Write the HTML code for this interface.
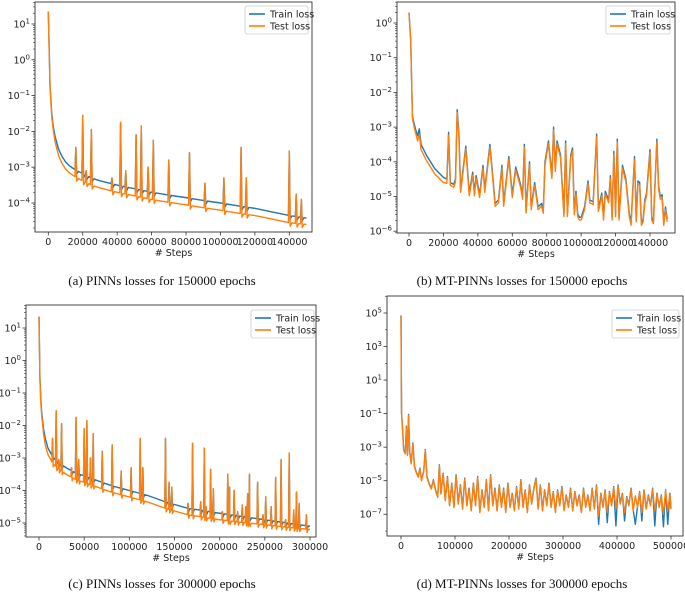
<!DOCTYPE html>
<html><head><meta charset="utf-8"><style>
body{margin:0;background:#fff;width:685px;height:592px;overflow:hidden}
svg{display:block}
.tk{font-family:"DejaVu Sans","Liberation Sans",sans-serif;font-size:9.5px;fill:#222}
.cap{font-family:"Liberation Serif",serif;font-size:13px;fill:#111}
</style></head><body>
<svg id="fig" width="685" height="592" xmlns="http://www.w3.org/2000/svg"></svg>
<script>
// ---------- DATA (x in steps, y as log10 of loss) ----------
// Panel (a) PINNs 150000
const aBaseX=[0,1000,2000,3000,4000,6000,8000,10000,12000,15000,20000,25000,30000,40000,50000,60000,70000,80000,90000,100000,110000,120000,130000,140000,150000];
const aBaseTrain=[1.35,-0.7,-1.5,-1.9,-2.15,-2.5,-2.7,-2.85,-2.95,-3.05,-3.18,-3.3,-3.38,-3.5,-3.6,-3.7,-3.78,-3.85,-3.93,-4.0,-4.08,-4.15,-4.25,-4.35,-4.42];
const aBaseTest=[1.35,-0.75,-1.6,-2.0,-2.3,-2.68,-2.9,-3.05,-3.15,-3.25,-3.38,-3.5,-3.58,-3.7,-3.8,-3.9,-3.98,-4.05,-4.13,-4.2,-4.28,-4.35,-4.45,-4.55,-4.6];
const aSpikeX=[16000,20000,22000,25000,37000,42000,45000,51000,54000,58000,61000,70000,82000,91000,102000,112000,115000,140000,144000,147000];
const aSpikePeak=[-2.45,-1.55,-3.1,-1.95,-3.3,-1.75,-3.1,-2.1,-1.85,-3.0,-2.25,-2.8,-2.6,-3.45,-3.3,-2.45,-3.3,-2.55,-3.75,-3.9];
// Panel (b) MT-PINNs 150000 (x in thousands)
const bX=[0,1,2,3,4,5,6,7,10,15,20,22,23,24,26,27,28,29,30,33,35,37,38,39,41,43,44,47,49,50,52,54,55,57,58,60,62,64,65,66,67,68,70,71,73,75,77,78,79,81,83,84,85,86,88,90,91,92,94,95,96,97,98,99,100,102,104,105,107,109,110,112,113,114,116,117,118,119,120,121,122,124,126,128,129,131,132,133,134,135,136,137,138,140,141,142,144,145,146,147,148,149,150];
const bTrain=[0.3,-0.5,-2.7,-2.9,-3.1,-3.25,-3.05,-3.5,-3.8,-4.2,-4.45,-4.5,-3.15,-4.6,-4.65,-4.5,-2.5,-3.2,-4.8,-3.55,-4.9,-4.3,-4.9,-4.4,-4.95,-4.1,-4.8,-3.5,-4.6,-5.2,-5.1,-4.1,-5.2,-4.3,-3.85,-4.95,-4.15,-4.5,-4.7,-5.0,-3.5,-5.4,-4.0,-5.3,-4.6,-5.3,-5.2,-5.4,-4.0,-3.4,-4.4,-3.0,-4.2,-3.4,-3.8,-5.5,-3.4,-5.5,-3.8,-3.6,-5.45,-4.85,-5.5,-5.6,-5.6,-5.3,-4.55,-5.1,-5.15,-3.2,-5.35,-4.9,-5.6,-4.85,-5.1,-4.4,-5.6,-3.7,-5.5,-3.35,-5.6,-4.1,-4.5,-5.5,-5.75,-3.85,-5.65,-4.55,-4.6,-5.75,-5.65,-5.1,-4.9,-3.65,-5.6,-5.7,-3.35,-4.7,-5.0,-4.95,-5.75,-5.3,-5.65];
const bTestOffset=[0,0,-0.05,-0.1,-0.1,-0.15,-0.15,-0.15,-0.15,-0.15,-0.15,-0.12];
// Panel (c) PINNs 300000
const cBaseX=[0,1000,2000,3000,5000,7000,10000,15000,20000,25000,30000,40000,50000,60000,80000,100000,120000,140000,165000,185000,200000,225000,250000,275000,300000];
const cBaseTrain=[1.35,-0.5,-1.2,-1.6,-2.1,-2.4,-2.7,-2.95,-3.1,-3.2,-3.3,-3.45,-3.55,-3.65,-3.85,-4.0,-4.15,-4.35,-4.55,-4.63,-4.7,-4.8,-4.9,-5.0,-5.1];
const cBaseTest=[1.35,-0.55,-1.3,-1.7,-2.25,-2.6,-2.9,-3.15,-3.3,-3.4,-3.5,-3.65,-3.75,-3.85,-4.05,-4.2,-4.35,-4.55,-4.75,-4.83,-4.9,-4.98,-5.05,-5.13,-5.2];
const cSpikeX=[15000,19000,22000,25000,36000,41000,44000,50000,53000,57000,60000,70000,81000,91000,102000,112000,115000,140000,144000,147000,165000,170000,179000,183000,185000,190000,193000,203000,209000,211000,216000,220000,225000,229000,231000,233000,242000,248000,251000,257000,262000,268000,273000,277000,282000,285000,288000,296000];
const cSpikePeak=[-2.4,-1.55,-3.05,-1.95,-3.3,-1.75,-3.05,-2.1,-1.85,-3.0,-2.25,-2.8,-2.6,-3.4,-3.3,-2.4,-3.3,-2.4,-3.75,-3.9,-4.4,-2.55,-4.35,-2.7,-4.5,-3.35,-3.95,-4.65,-3.5,-3.9,-4.0,-4.65,-4.45,-4.5,-4.1,-3.5,-3.75,-4.75,-4.2,-4.5,-3.6,-3.05,-4.9,-2.85,-4.6,-4.05,-4.4,-4.75];
// Panel (d) MT-PINNs 500000 (x in thousands)
const dX=[0,1,3,5,8,10,12,14,16,19,22,25,28,32,35,38,42,45,48,52,56,60,64,68,71,74,78,82,86,90,94,98,102,106,110,114,118,122,126,130,134,138,142,146,150,154,158,162,166,170,174,178,182,186,190,194,198,202,206,210,214,218,222,226,230,234,238,242,246,250,254,258,262,266,270,274,278,282,286,290,294,298,302,306,310,314,318,322,326,330,334,338,342,346,350,354,358,362,366,370,374,378,382,386,390,394,398,402,406,410,414,418,422,426,430,434,438,442,446,450,454,458,462,466,470,474,478,482,486,490,494,498,500];
const dTest=[4.8,-1,-2,-3.2,-3.4,-1.8,-3.5,-1.1,-3.3,-4.0,-2.8,-4.2,-4.5,-4.8,-4.3,-5.0,-4.5,-3.2,-4.8,-5.2,-5.5,-5.0,-5.6,-6.0,-4.1,-5.8,-4.6,-6.2,-4.8,-6.5,-5.2,-6.6,-4.7,-6.4,-5.3,-6.7,-4.9,-6.5,-5.5,-6.8,-5.2,-6.5,-4.8,-6.9,-5.6,-6.6,-5.0,-6.8,-4.7,-6.5,-5.5,-6.8,-5.3,-6.6,-5.5,-6.9,-5.2,-6.6,-5.8,-6.8,-5.4,-6.7,-5.0,-6.6,-5.6,-6.9,-5.3,-6.4,-5.5,-4.9,-6.7,-5.3,-6.8,-5.6,-6.5,-5.2,-6.6,-5.7,-6.9,-5.6,-6.5,-5.4,-6.8,-5.9,-6.6,-5.5,-6.8,-5.7,-6.5,-5.9,-6.9,-5.5,-6.6,-5.9,-6.8,-5.5,-6.7,-5.3,-7.1,-5.8,-6.6,-5.6,-6.9,-5.7,-6.5,-5.4,-6.7,-5.3,-6.4,-5.8,-6.9,-6.0,-6.5,-5.5,-6.8,-5.9,-6.6,-5.7,-6.9,-5.6,-6.7,-5.9,-6.5,-5.5,-6.8,-5.8,-6.6,-5.9,-7.0,-5.6,-6.8,-5.8,-6.7];
const dDipX=[366,382,398,414,434,446,470,486,494];
const dDipVal=[-7.6,-7.5,-7.7,-7.4,-7.6,-7.4,-7.7,-7.75,-7.6];
// tick labels
const aXTicks=[0,20000,40000,60000,80000,100000,120000,140000];
const bXTicks=[0,20000,40000,60000,80000,100000,120000,140000];
const cXTicks=[0,50000,100000,150000,200000,250000,300000];
const dXTicks=[0,100000,200000,300000,400000,500000];
const aYExp=[1,0,-1,-2,-3,-4], bYExp=[0,-1,-2,-3,-4,-5,-6], cYExp=[1,0,-1,-2,-3,-4,-5], dYExp=[5,3,1,-1,-3,-5,-7];

// ---------- rendering ----------
const NS="http://www.w3.org/2000/svg";
const fig=document.getElementById('fig');
function mk(tag,attrs,parent){const e=document.createElementNS(NS,tag);for(const k in attrs)e.setAttribute(k,attrs[k]);(parent||fig).appendChild(e);return e;}
function interp(xs,ys,x){for(let i=0;i<xs.length-1;i++){if(x>=xs[i]&&x<=xs[i+1]){const t=(x-xs[i])/(xs[i+1]-xs[i]);return ys[i]+t*(ys[i+1]-ys[i]);}}return ys[ys.length-1];}
function withSpikes(bx,by,sx,sp,w){
  const pts=bx.filter(x=>!sx.some(s=>Math.abs(s-x)<=w*1.5)).map(x=>[x,interp(bx,by,x)]);
  sx.forEach((x,i)=>{pts.push([x-w,interp(bx,by,x-w)]);pts.push([x,sp[i]]);pts.push([x+w,interp(bx,by,x+w)-0.1]);pts.push([x+3*w,interp(bx,by,x+3*w)]);});
  pts.sort((p,q)=>p[0]-q[0]);return pts;
}
function panel(P){
  const g=mk('g',{});
  
  
  const X=v=>P.x0+v*P.xs, Y=l=>P.y0-(l-P.e0)*P.ppd;
  const cid='clip'+P.id;
  const cp=mk('clipPath',{id:cid},g);mk('rect',{x:P.L,y:P.T,width:P.R-P.L,height:P.B-P.T},cp);
  P.xt.forEach(v=>{const x=X(v*P.xu);mk('line',{x1:x,x2:x,y1:P.B,y2:P.B+3.5,stroke:'#333','stroke-width':0.8},g);
    const tx=mk('text',{x:x,y:P.B+13,'text-anchor':'middle',class:'tk'},g);tx.textContent=v;
    
    });
  const emin=Math.floor(P.e0-(P.B-P.y0)/P.ppd)-1, emax=Math.ceil(P.e0+(P.y0-P.T)/P.ppd)+1;
  for(let e=emin;e<=emax;e++){
    const subs=P.dense?[1]:[2,3,4,5,6,7,8,9];
    subs.forEach(s=>{const y=Y(e+Math.log10(s));if(y>P.T&&y<P.B&&!P.ye.includes(e+Math.log10(s)))
      mk('line',{x1:P.L-2,x2:P.L,y1:y,y2:y,stroke:'#333','stroke-width':0.6},g);});
  }
  P.ye.forEach(e=>{const y=Y(e);mk('line',{x1:P.L-3.5,x2:P.L,y1:y,y2:y,stroke:'#333','stroke-width':0.8},g);
    const tx=mk('text',{x:P.L-5,y:y+3.5,'text-anchor':'end',class:'tk'},g);
    
    
    const a=document.createElementNS(NS,'tspan');a.textContent='10';tx.appendChild(a);
    const b=document.createElementNS(NS,'tspan');b.setAttribute('dy','-4');b.setAttribute('font-size','7');b.textContent=e<0?'\u2212'+(-e):String(e);tx.appendChild(b);});
  P.series.forEach(s=>{
    const d=s.pts.map((p,i)=>(i?'L':'M')+X(p[0]).toFixed(2)+' '+Y(p[1]).toFixed(2)).join('');
    const pa=mk('path',{d:d,fill:'none',stroke:s.c,'stroke-width':1.4,'stroke-linejoin':'round','clip-path':'url(#'+cid+')'},g);
    
    });
  const fr=mk('rect',{x:P.L,y:P.T,width:P.R-P.L,height:P.B-P.T,fill:'none',stroke:'#333','stroke-width':0.9},g);
  
  
  const lg=mk('g',{},g);
  
  
  const [lx,ly,lw,lh]=P.leg;
  mk('rect',{x:lx,y:ly,width:lw,height:lh,rx:2,fill:'#fff',stroke:'#ccc','stroke-width':0.8},lg);
  [['Train loss','#1f77b4'],['Test loss','#ff7f0e']].forEach((it,i)=>{
    const yy=ly+8+i*12;
    const le=mk('line',{x1:lx+4,x2:lx+20,y1:yy,y2:yy,stroke:it[1],'stroke-width':1.6},lg);
    
    
    const t=mk('text',{x:lx+25,y:yy+3.5,class:'tk'},lg);t.textContent=it[0];});
  const xl=mk('text',{x:(P.L+P.R)/2,y:P.B+24,'text-anchor':'middle',class:'tk'},g);xl.textContent='# Steps';
  
  
  const cap=mk('text',{x:P.capX,y:P.capY,'text-anchor':'middle',class:'cap'},g);cap.textContent=P.cap;
  
  
}
const bTest=bTrain.map((v,i)=>v+(i<bTestOffset.length?bTestOffset[i]:-0.08));
const dTrain=dX.map((x,i)=>{const j=dDipX.indexOf(x);return j>=0?dDipVal[j]:dTest[i]+0.05;});
panel({id:'a',name:'panel-a',L:35,R:312,T:2,B:232,x0:48.3,xs:241/140000,xu:1,y0:24,e0:1,ppd:35.8,xt:aXTicks,ye:aYExp,
  leg:[245,6,63,28],capX:162,capY:285,cap:'(a) PINNs losses for 150000 epochs',
  series:[{n:'train-loss-line',c:'#1f77b4',pts:withSpikes(aBaseX,aBaseTrain,aSpikeX,aSpikePeak,500)},
          {n:'test-loss-line',c:'#ff7f0e',pts:withSpikes(aBaseX,aBaseTest,aSpikeX,aSpikePeak,500)}]});
panel({id:'b',name:'panel-b',L:397,R:675,T:2,B:233,x0:409,xs:241/140,xu:0.001,y0:23,e0:0,ppd:34.7,xt:bXTicks,ye:bYExp,
  leg:[606,6,64,28],capX:522,capY:285,cap:'(b) MT-PINNs losses for 150000 epochs',
  series:[{n:'train-loss-line',c:'#1f77b4',pts:bX.map((x,i)=>[x,bTrain[i]])},
          {n:'test-loss-line',c:'#ff7f0e',pts:bX.map((x,i)=>[x,bTest[i]])}]});
panel({id:'c',name:'panel-c',L:26,R:316,T:305,B:537,x0:39,xs:271/300000,xu:1,y0:328,e0:1,ppd:32.5,xt:cXTicks,ye:cYExp,
  leg:[251,310,63,28],capX:162,capY:588,cap:'(c) PINNs losses for 300000 epochs',
  series:[{n:'train-loss-line',c:'#1f77b4',pts:withSpikes(cBaseX,cBaseTrain,cSpikeX,cSpikePeak,700)},
          {n:'test-loss-line',c:'#ff7f0e',pts:withSpikes(cBaseX,cBaseTest,cSpikeX,cSpikePeak,700)}]});
panel({id:'d',name:'panel-d',L:387,R:683,T:296,B:536,x0:401,xs:270/500,xu:0.001,y0:313,e0:5,ppd:16.77,xt:dXTicks,ye:dYExp,dense:true,
  leg:[612,310,67,28],capX:522,capY:588,cap:'(d) MT-PINNs losses for 300000 epochs',
  series:[{n:'train-loss-line',c:'#1f77b4',pts:dX.map((x,i)=>[x,dTrain[i]])},
          {n:'test-loss-line',c:'#ff7f0e',pts:dX.map((x,i)=>[x,dTest[i]])}]});
</script>
</body></html>
